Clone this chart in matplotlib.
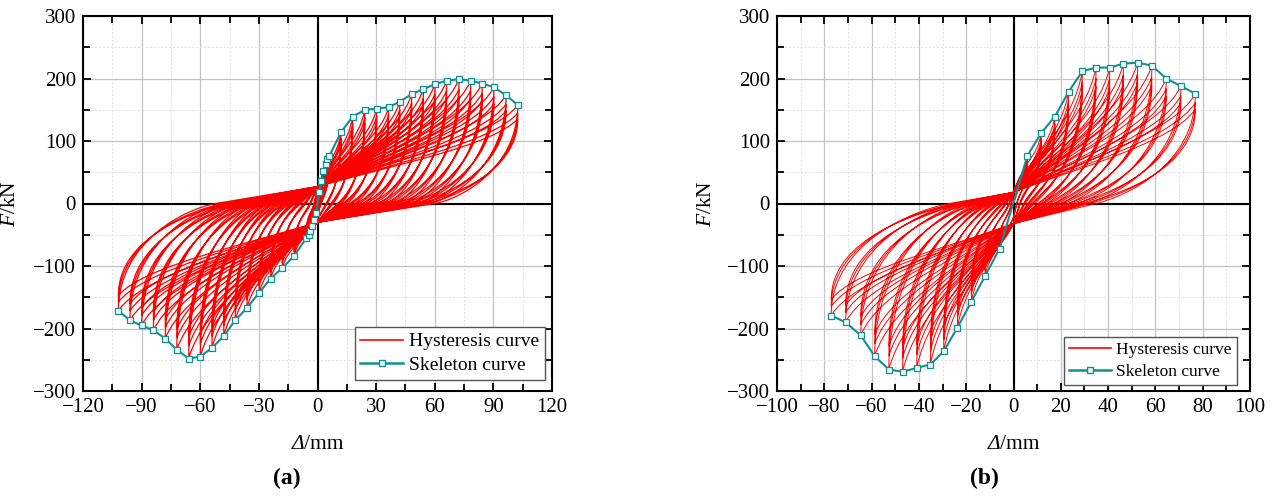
import numpy as np
import matplotlib
matplotlib.use("Agg")
import matplotlib.pyplot as plt
from matplotlib.path import Path
from matplotlib.patches import PathPatch
from matplotlib.ticker import MultipleLocator
from matplotlib.offsetbox import TextArea, HPacker, AnchoredOffsetbox

plt.rcParams["font.family"] = ["Liberation Serif", "DejaVu Serif"]
plt.rcParams["mathtext.fontset"] = "custom"
plt.rcParams["mathtext.rm"] = "Liberation Serif"
plt.rcParams["mathtext.it"] = "Liberation Serif:italic"

# --------------------------------------------------------
# Panel (a): skeleton peaks
# --------------------------------------------------------
A_D_POS = [0.9, 1.9, 2.8, 4.2, 4.9, 6.1, 12.0, 18.0, 24.2, 30.3, 36.4,
           42.1, 48.2, 54.2, 60.1, 66.1, 72.4, 78.4, 84.3, 90.3, 96.5, 102.5]
A_F_POS = [17.9, 36.5, 52.5, 63.0, 71.0, 76.5, 114.0, 139.0, 149.6, 152.0, 154.0,
           163.0, 175.0, 183.0, 191.0, 196.5, 199.0, 196.5, 192.0, 186.0, 173.0, 157.6]
A_D_NEG = [-0.8, -1.8, -2.8, -3.8, -4.5, -5.7, -11.9, -18.0, -24.0, -29.9, -36.1,
           -42.1, -48.0, -54.0, -60.0, -65.9, -72.0, -77.9, -84.0, -90.0, -96.0, -101.9]
A_F_NEG = [-14.7, -26.0, -35.5, -43.5, -50.0, -55.0, -84.0, -103.0, -120.0, -143.0, -167.0,
           -187.0, -212.0, -231.0, -245.0, -248.0, -234.0, -216.0, -203.0, -195.0, -187.0, -171.5]
# zero-force crossings of the unloading branches
A_Z_POS = [0.3, 0.6, 0.9, 1.3, 1.5, 1.9, 5, 8, 12, 15, 19,
           23, 27, 31, 35, 39, 43, 47, 51, 54, 57, 60]
A_Z_NEG = [-0.3, -0.6, -0.9, -1.2, -1.4, -1.8, -4, -7, -10, -13, -16,
           -19, -22, -25, -28, -31, -34, -37, -40, -44, -48, -52]
A_PINCH = (27.0, -30.0)

# --------------------------------------------------------
# Panel (b)
# --------------------------------------------------------
B_D_POS = [5.9, 11.7, 17.5, 23.3, 29.1, 34.9, 40.7, 46.5, 52.5, 58.5, 64.6, 70.8, 76.9]
B_F_POS = [76.7, 112.7, 139.0, 178.8, 211.6, 217.5, 217.5, 223.8, 225.4, 220.6, 200.0, 187.8, 175.7]
B_D_NEG = [-5.9, -12.0, -17.8, -23.7, -29.5, -35.1, -40.9, -46.9, -52.7, -58.7, -64.6, -71.0, -77.1]
B_F_NEG = [-72.5, -115.8, -157.0, -198.4, -236.5, -257.6, -263.0, -269.3, -265.6, -244.4, -211.0, -190.0, -179.4]
B_Z_POS = [1.5, 3, 5, 7, 9, 12, 14, 17, 20, 23, 27, 31, 35]
B_Z_NEG = [-1, -2, -3.5, -5, -7, -9, -11, -13, -15, -18, -21, -24, -27]
B_PINCH = (18.0, -32.0)

# repeated cycles at each displacement level lose some force
REPEAT_RATIOS = [1.0, 0.92, 0.86]

RED = "#ff0000"
TEAL = "#128f91"


def hysteresis_path(d_pos, f_pos, z_pos, d_neg, f_neg, z_neg, pinch):
    verts = [(0.0, 0.0)]
    codes = [Path.MOVETO]
    cur = (0.0, 0.0)
    slope = f_pos[0] / d_pos[0] * 0.5

    def reload(start, s, target):
        # pinched reloading: soft near the origin, stiffening towards the peak
        dx = target[0] - start[0]
        m = (target[1] - start[1]) / dx
        s_mix = 0.3 * s + 0.7 * m
        c1 = (start[0] + 0.35 * dx, start[1] + s_mix * 0.35 * dx)
        c2 = (target[0] - 0.12 * dx, start[1] + 0.6 * (target[1] - start[1]))
        verts.extend([c1, c2, target])
        codes.extend([Path.CURVE4] * 3)

    def unload(peak, z, q):
        s = abs(q / z)
        c1 = (peak[0], 0.35 * peak[1])
        c2 = (z + 0.3 * (peak[0] - z), 0.3 * (peak[0] - z) * s)
        verts.extend([c1, c2, (z, 0.0), (0.0, q)])
        codes.extend([Path.CURVE4] * 3 + [Path.LINETO])
        return (0.0, q), s

    for i in range(len(d_pos)):
        for r in REPEAT_RATIOS:
            p = (d_pos[i], f_pos[i] * r)
            n = (d_neg[i], f_neg[i] * r)
            qn = max(pinch[1], 0.3 * f_neg[i])
            qp = min(pinch[0], 0.3 * f_pos[i])
            reload(cur, slope, p)
            cur, slope = unload(p, z_pos[i] * r, qn)
            reload(cur, slope, n)
            cur, slope = unload(n, z_neg[i] * r, qp)
    return Path(verts, codes)


def style_axes(ax, xlim, xmajor):
    ax.set_xlim(*xlim)
    ax.set_ylim(-300, 300)
    ax.xaxis.set_major_locator(MultipleLocator(xmajor))
    ax.xaxis.set_minor_locator(MultipleLocator(xmajor / 2))
    ax.yaxis.set_major_locator(MultipleLocator(100))
    ax.yaxis.set_minor_locator(MultipleLocator(50))
    ax.grid(True, which="major", color="#c4c4c4", linewidth=0.9, zorder=0)
    ax.grid(True, which="minor", color="#dedede", linewidth=0.7,
            linestyle=(0, (2, 2)), zorder=0)
    ax.set_axisbelow(True)
    ax.tick_params(which="both", direction="in", top=True, right=True,
                   labelsize=15, width=1.3, pad=5)
    ax.tick_params(which="major", length=6)
    ax.tick_params(which="minor", length=5)
    for sp in ax.spines.values():
        sp.set_linewidth(1.5)
    ax.axhline(0, color="black", linewidth=1.5, zorder=1)
    ax.axvline(0, color="black", linewidth=1.5, zorder=1)
    ax.set_ylabel(r"$\mathit{F}$/kN", fontsize=15.5, labelpad=2)
    # x label: italic delta + upright unit
    box = HPacker(children=[
        TextArea("Δ", textprops=dict(fontsize=15.5, fontstyle="italic")),
        TextArea("/mm", textprops=dict(fontsize=15.5)),
    ], align="baseline", pad=0, sep=0)
    anchored = AnchoredOffsetbox(loc="center", child=box, pad=0, frameon=False,
                                 bbox_to_anchor=(0.5, -0.142),
                                 bbox_transform=ax.transAxes, borderpad=0)
    ax.add_artist(anchored)


fig = plt.figure(figsize=(12.74, 4.96), dpi=100)
ax_a = fig.add_axes([83 / 1274, 105 / 496, 469 / 1274, 375 / 496])
ax_b = fig.add_axes([777 / 1274, 105 / 496, 473 / 1274, 375 / 496])

panels = [
    (ax_a, (-120, 120), 30, A_D_POS, A_F_POS, A_Z_POS, A_D_NEG, A_F_NEG, A_Z_NEG,
     A_PINCH, 0.9, (0.985, 0.03), 14, 2.2),
    (ax_b, (-100, 100), 20, B_D_POS, B_F_POS, B_Z_POS, B_D_NEG, B_F_NEG, B_Z_NEG,
     B_PINCH, 0.7, (0.972, 0.016), 12.5, 2.4),
]

for (ax, xlim, xmajor, dp, fp, zp, dn, fn, zn, pinch, lw, anchor, lfs, hl) in panels:
    style_axes(ax, xlim, xmajor)
    path = hysteresis_path(dp, fp, zp, dn, fn, zn, pinch)
    ax.add_patch(PathPatch(path, facecolor="none", edgecolor=RED,
                           linewidth=lw, zorder=2))
    skel_d = list(dn[::-1]) + list(dp)
    skel_f = list(fn[::-1]) + list(fp)
    ax.plot(skel_d, skel_f, color=TEAL, linewidth=1.5, marker="s",
            markersize=4.8, markerfacecolor="#eefafa", markeredgecolor=TEAL,
            markeredgewidth=0.9, zorder=3)
    handles = [
        plt.Line2D([], [], color=RED, linewidth=1.2),
        plt.Line2D([], [], color=TEAL, linewidth=1.8, marker="s", markersize=4.5,
                   markerfacecolor="#eefafa", markeredgecolor=TEAL),
    ]
    leg = ax.legend(handles, ["Hysteresis curve", "Skeleton curve"],
                    loc="lower right", bbox_to_anchor=anchor, borderaxespad=0,
                    fontsize=lfs, frameon=True, fancybox=False, framealpha=1,
                    edgecolor="#555555", handlelength=hl, handletextpad=0.3,
                    borderpad=0.3, labelspacing=0.3)
    leg.get_frame().set_linewidth(1.0)

ax_a.yaxis.set_label_coords((20 - 83) / 469, 0.5)
ax_b.yaxis.set_label_coords((716 - 777) / 473, 0.5)

fig.text(287 / 1274, 1 - 478 / 496, "(a)", fontsize=17, fontweight="bold",
         ha="center", va="center")
fig.text(984 / 1274, 1 - 478 / 496, "(b)", fontsize=17, fontweight="bold",
         ha="center", va="center")

fig.savefig("out.png", dpi=100)
